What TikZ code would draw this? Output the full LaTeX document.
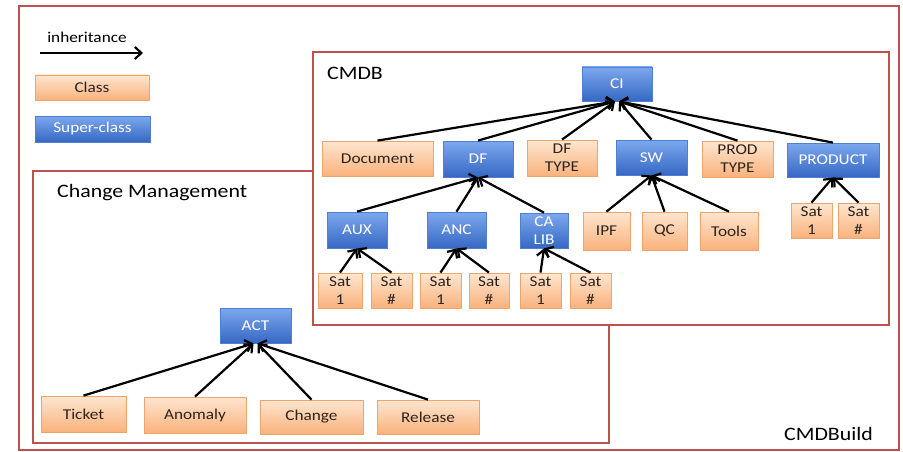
\documentclass[tikz,border=0pt]{standalone}
\usepackage{fontspec}
\setmainfont{Carlito}[FakeStretch=1.15]
\usetikzlibrary{arrows.meta}
\definecolor{framecol}{RGB}{188,82,80}
\definecolor{clstop}{RGB}{254,230,208}
\definecolor{clsbot}{RGB}{249,178,124}
\definecolor{clsborder}{RGB}{238,164,106}
\definecolor{clstext}{RGB}{45,35,30}
\definecolor{suptop}{RGB}{124,168,238}
\definecolor{supbot}{RGB}{54,104,196}
\definecolor{supborder}{RGB}{80,126,208}
\tikzset{
  wh/.style 2 args={minimum width=#1pt, minimum height=#2pt},
  cls/.style={draw=clsborder, line width=0.8pt, top color=clstop, bottom color=clsbot,
    text=clstext, font=\fontsize{15}{18}\selectfont, align=center, inner sep=0pt},
  supcls/.style={draw=supborder, line width=0.8pt, top color=suptop, bottom color=supbot,
    text=white, font=\fontsize{15}{18}\selectfont, align=center, inner sep=0pt},
  frame/.style={draw=framecol, line width=2.6pt},
  title/.style={anchor=west, inner sep=0pt, font=\fontsize{19}{22}\selectfont, text=black},
  inh/.style={-{Straight Barb[length=6.5pt,width=12pt]}, line width=2.2pt, black},
}
\begin{document}
\begin{tikzpicture}[x=1pt,y=-1pt]
\useasboundingbox (0,0) rectangle (903,452);
% frames
\draw[frame] (19,6) rectangle (899,450);
\draw[frame] (33,171) rectangle (609,443);
\draw[frame, fill=white] (313,52) rectangle (889,325);
% titles
\node[title] (tcm) at (57,193) {Change Management};
\node[title] (tcmdb) at (327,73) {CMDB};
\node[title] (tbuild) at (784,434) {CMDBuild};
% legend
\node[inner sep=0pt, font=\fontsize{15}{18}\selectfont] (linh) at (87,37) {inheritance};
\coordinate (la) at (40,53);
\coordinate (lb) at (143,53);
\draw[inh] (la) -- (lb);
\node[cls, wh={114}{25}] (lcls) at (92,87.5) {Class};
\node[supcls, wh={115}{26}] (lsup) at (92.5,129) {Super-class};
% CMDB
\node[supcls, wh={70}{34}] (CI) at (617,84) {CI};
\node[cls, wh={111}{35}] (doc) at (377.5,158.5) {Document};
\node[supcls, wh={70}{36}] (DF) at (478,159) {DF};
\node[cls, wh={70}{36}] (dft) at (562,158) {DF\\TYPE};
\node[supcls, wh={71}{35}] (SW) at (651.5,157.5) {SW};
\node[cls, wh={71}{36}] (pt) at (737.5,159) {PROD\\TYPE};
\node[supcls, wh={92}{34}] (PR) at (833,160) {PRODUCT};
\node[supcls, wh={60}{36}] (AUX) at (357,230) {AUX};
\node[supcls, wh={59}{36}] (ANC) at (456.5,230) {ANC};
\node[supcls, wh={48}{35}] (CAL) at (544,230.5) {CA\\LIB};
\node[cls, wh={47}{38}] (ipf) at (606.5,231) {IPF};
\node[cls, wh={45}{38}] (qc) at (664.5,231) {QC};
\node[cls, wh={58}{38}] (tools) at (729,231) {Tools};
\node[cls, wh={41}{35}] (ps1) at (811.5,220.5) {Sat\\1};
\node[cls, wh={41}{35}] (psn) at (858.5,220.5) {Sat\\\#};
\node[cls, wh={44}{35}] (as1) at (340,290.5) {Sat\\1};
\node[cls, wh={41}{35}] (asn) at (391.5,290.5) {Sat\\\#};
\node[cls, wh={41}{35}] (ns1) at (440.5,290.5) {Sat\\1};
\node[cls, wh={40}{35}] (nsn) at (489,290.5) {Sat\\\#};
\node[cls, wh={41}{35}] (cs1) at (540.5,290.5) {Sat\\1};
\node[cls, wh={41}{35}] (csn) at (590.5,290.5) {Sat\\\#};
% Change management
\node[supcls, wh={71}{35}] (ACT) at (255.5,325.5) {ACT};
\node[cls, wh={85}{36}] (ticket) at (83.5,414) {Ticket};
\node[cls, wh={102}{36}] (anom) at (195,415) {Anomaly};
\node[cls, wh={103}{34}] (chg) at (311.5,417) {Change};
\node[cls, wh={102}{34}] (rel) at (428,417) {Release};
% arrows
\foreach \c in {doc,DF,dft} \draw[inh] (\c.north) -- ([xshift=-2pt]CI.south);
\foreach \c in {SW,pt,PR} \draw[inh] (\c.north) -- ([xshift=2pt]CI.south);
\foreach \c in {AUX,ANC,CAL} \draw[inh] (\c.north) -- (DF.south);
\foreach \c in {ipf,qc,tools} \draw[inh] (\c.north) -- (SW.south);
\foreach \c in {ps1,psn} \draw[inh] (\c.north) -- (PR.south);
\foreach \c in {as1,asn} \draw[inh] (\c.north) -- (AUX.south);
\foreach \c in {ns1,nsn} \draw[inh] (\c.north) -- (ANC.south);
\foreach \c in {cs1,csn} \draw[inh] (\c.north) -- (CAL.south);
\foreach \c in {ticket,anom} \draw[inh] (\c.north) -- ([xshift=-2pt]ACT.south);
\foreach \c in {chg,rel} \draw[inh] (\c.north) -- ([xshift=2pt]ACT.south);
\end{tikzpicture}
\end{document}
